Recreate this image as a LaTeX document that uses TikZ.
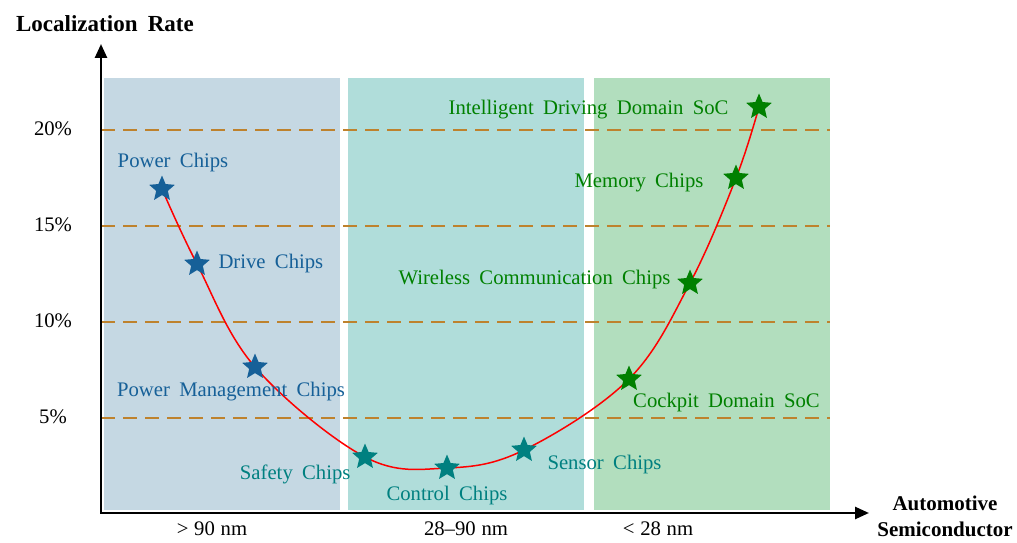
\documentclass[tikz,border=0pt]{standalone}
\usepackage{fontspec}
\setmainfont[WordSpace=1.8]{Liberation Serif}
\usetikzlibrary{shapes.geometric,positioning,arrows.meta}

\definecolor{oldnode}{RGB}{197,216,227}
\definecolor{midnode}{RGB}{176,221,218}
\definecolor{newnode}{RGB}{178,222,190}
\definecolor{levelc}{RGB}{190,130,45}
\definecolor{bluec}{RGB}{22,96,152}
\definecolor{tealc}{RGB}{0,128,128}
\definecolor{greenc}{RGB}{0,128,0}

% narrow gap for the band labels
\newcommand{\bgap}{\hspace{0.28em}}

\begin{document}
\begin{tikzpicture}[x=1pt,y=1pt,>={Triangle[length=14pt,width=12pt]}]

    \tikzstyle{chip} = [star, star points=5, star point ratio=2.2, inner sep=0pt, minimum size=27pt];
    \tikzstyle{lbl} = [font=\fontsize{20.7}{24}\selectfont, inner sep=0pt];
    \tikzstyle{level} = [draw=levelc, dash pattern=on 14pt off 8pt, line width=1.6pt];
    \tikzstyle{axis} = [line width=2.5pt, <->, line join=miter];

    \useasboundingbox (0,0) rectangle (1017,542);

    % node-size bands
    \fill[oldnode] (104,32) rectangle (340,464);
    \fill[midnode] (348,32) rectangle (584,464);
    \fill[newnode] (594,32) rectangle (830,464);

    % rate levels
    \foreach \y/\p in {124/5,220/10,316/15,412/20} {
        \draw[level] (101,\y) -- (830,\y);
        \node[lbl] (pct\p) at (53,\y+1) {\p\%};
    }

    % axes
    \coordinate (o) at (101,29);
    \coordinate (ytip) at (101,498);
    \coordinate (xtip) at (869,29);
    \draw[axis] (ytip) -- (o) -- (xtip);
    \node[font=\fontsize{23}{26}\selectfont\bfseries] (ylab) at (105,518) {Localization Rate};
    \node[font=\fontsize{21}{26}\selectfont\bfseries, align=center] (xlab) at (945,26) {Automotive\\Semiconductor};
    \node[lbl] (band1) at (212,13) {>\bgap90\bgap{}nm};
    \node[lbl] (band2) at (466,13) {28--90\bgap{}nm};
    \node[lbl] (band3) at (658,13) {<\bgap28\bgap{}nm};

    % chip points
    \coordinate (pw) at (162,353);
    \coordinate (dr) at (197,278);
    \coordinate (pm) at (255,175);
    \coordinate (sf) at (365,85);
    \coordinate (ct) at (447,74);
    \coordinate (sn) at (524,92);
    \coordinate (ck) at (629,163);
    \coordinate (wl) at (690,259);
    \coordinate (mm) at (736,364);
    \coordinate (id) at (759,435);

    \draw[red, line width=1.5pt] plot[smooth, tension=0.6]
        coordinates {(pw) (dr) (pm) (sf) (ct) (sn) (ck) (wl) (mm) (id)};

    \node[chip, fill=bluec] (pwS) at (pw) {};
    \node[chip, fill=bluec] (drS) at (dr) {};
    \node[chip, fill=bluec] (pmS) at (pm) {};
    \node[chip, fill=tealc] (sfS) at (sf) {};
    \node[chip, fill=tealc] (ctS) at (ct) {};
    \node[chip, fill=tealc] (snS) at (sn) {};
    \node[chip, fill=greenc] (ckS) at (ck) {};
    \node[chip, fill=greenc] (wlS) at (wl) {};
    \node[chip, fill=greenc] (mmS) at (mm) {};
    \node[chip, fill=greenc] (idS) at (id) {};

    \node[lbl, text=bluec, above=3pt of pwS, xshift=11pt] (pwL) {Power Chips};
    \node[lbl, text=bluec, right=13pt of drS] (drL) {Drive Chips};
    \node[lbl, text=bluec, below=9pt of pmS, xshift=-24pt] (pmL) {Power Management Chips};
    \node[lbl, text=tealc, left=6pt of sfS, yshift=-17pt] (sfL) {Safety Chips};
    \node[lbl, text=tealc, below=12pt of ctS] (ctL) {Control Chips};
    \node[lbl, text=tealc, right=15pt of snS, yshift=-15pt] (snL) {Sensor Chips};
    \node[lbl, text=greenc, below=8pt of ckS, anchor=north west, xshift=4pt] (ckL) {Cockpit Domain SoC};
    \node[lbl, text=greenc, left=11pt of wlS, yshift=3pt] (wlL) {Wireless Communication Chips};
    \node[lbl, text=greenc, left=24pt of mmS, yshift=-5pt] (mmL) {Memory Chips};
    \node[lbl, text=greenc, left=22pt of idS, yshift=-3pt] (idL) {Intelligent Driving Domain SoC};

\end{tikzpicture}
\end{document}
